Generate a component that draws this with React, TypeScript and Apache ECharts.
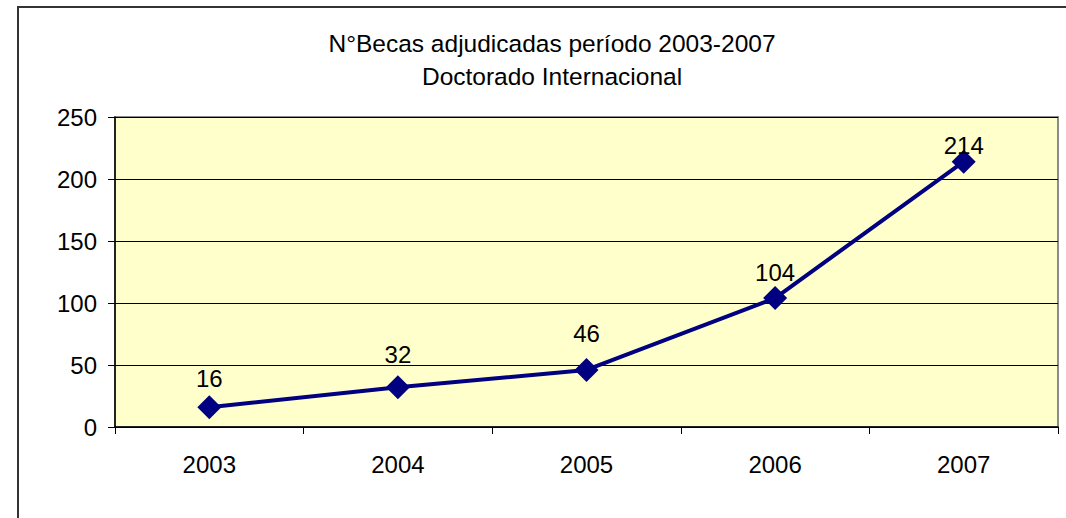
import React, { useEffect, useRef } from "react";
import * as echarts from "echarts";

const titleLines = ["N°Becas adjudicadas período 2003-2007", "Doctorado Internacional"];
const years = ["2003", "2004", "2005", "2006", "2007"];
const becas = [16, 32, 46, 104, 214];
const yMin = 0;
const yMax = 250;
const yStep = 50;
// vertical offset (px) of each value label above its marker, as placed in the reference
const labelLift = [29, 33, 36, 26, 16];

export default function App() {
  const ref = useRef<HTMLDivElement>(null);
  useEffect(() => {
    const chart = echarts.init(ref.current!, null, { renderer: "svg" });
    const font = "'Liberation Sans', Arial, sans-serif";
    chart.setOption({
      animation: false,
      backgroundColor: "#ffffff",
      textStyle: { fontFamily: font },
      title: {
        text: titleLines.join("\n"),
        left: 547,
        textAlign: "center",
        top: 22,
        textStyle: { fontFamily: font, fontSize: 24.5, fontWeight: "normal", color: "#000", lineHeight: 33 },
      },
      graphic: [
        {
          type: "rect",
          shape: { x: 18, y: 7, width: 1200, height: 700 },
          style: { fill: "none", stroke: "#333", lineWidth: 2 },
          silent: true,
          z: 100,
        },
      ],
      grid: {
        left: 115,
        top: 117,
        width: 943,
        height: 310,
        show: true,
        backgroundColor: "#FFFFCC",
        borderColor: "#8c8c8c",
        borderWidth: 2,
      },
      xAxis: {
        type: "category",
        data: years,
        boundaryGap: true,
        axisLine: { lineStyle: { color: "#000", width: 1.5 } },
        axisTick: { show: true, length: 7, lineStyle: { color: "#000" }, alignWithLabel: false },
        axisLabel: { color: "#000", fontSize: 24, margin: 25, fontFamily: font },
        splitLine: { show: false },
      },
      yAxis: {
        type: "value",
        min: yMin,
        max: yMax,
        interval: yStep,
        axisLine: { show: true, lineStyle: { color: "#000", width: 1.5 } },
        axisTick: { show: true, length: 7, lineStyle: { color: "#000" } },
        axisLabel: { color: "#000", fontSize: 24, margin: 18, fontFamily: font },
        splitLine: { show: true, lineStyle: { color: "#000", width: 1 } },
      },
      series: [
        {
          type: "line",
          data: becas.map((v, i) => ({
            value: v,
            label: { offset: [0, -labelLift[i]] },
          })),
          symbol: "diamond",
          symbolSize: 24,
          lineStyle: { color: "#000080", width: 4 },
          itemStyle: { color: "#000080" },
          label: {
            show: true,
            position: "inside",
            color: "#000",
            fontSize: 24,
            fontFamily: font,
          },
        },
      ],
    });
    return () => chart.dispose();
  }, []);
  return (
    <div
      ref={ref}
      style={{ position: "absolute", left: 0, top: 0, width: 1066, height: 518 }}
    />
  );
}
